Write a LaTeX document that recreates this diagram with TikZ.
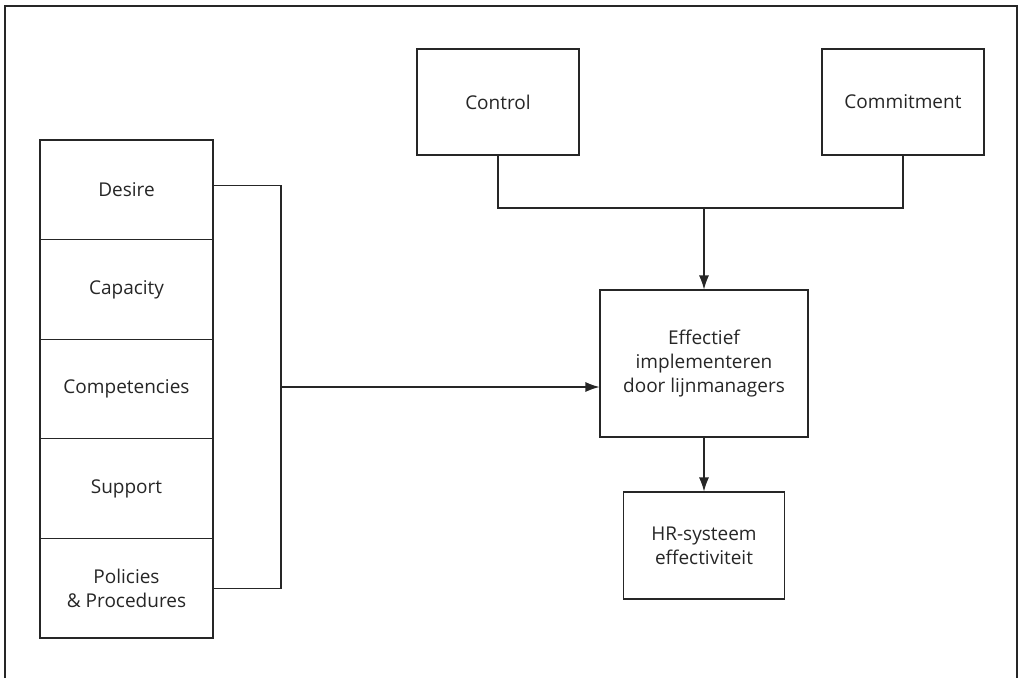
\documentclass[tikz,border=0pt]{standalone}
\usepackage{fontspec}
\setmainfont{Open Sans}
\usepackage{tikz}
\usetikzlibrary{arrows.meta}

\begin{document}
\begin{tikzpicture}[x=1pt, y=-1pt,
    line width=1.1pt, draw=black!85,
    every node/.style={text=black!85, font=\fontsize{19}{24}\selectfont},
    box/.style={draw, align=center, inner sep=0pt},
    cell/.style={box, minimum width=173pt, minimum height=99.6pt},
    flow/.style={-{Latex[length=14pt, width=10pt]}}]
    \useasboundingbox (0,0) rectangle (1021,678);

    % Frame
    \draw (5,678) |- (1017,6) -- (1017,678);

    % Left column
    \node[cell] (desire) at (126.5,189.8) {Desire};
    \node[cell] (capacity) at (126.5,289.4) {Capacity};
    \node[cell] (competencies) at (126.5,389) {Competencies};
    \node[cell] (support) at (126.5,488.6) {Support};
    \node[cell] (policies) at (126.5,588.2) {Policies\\\& Procedures};

    % Top boxes
    \node[box, minimum width=162pt, minimum height=106pt] (control) at (498,102) {Control};
    \node[box, minimum width=162pt, minimum height=106pt] (commitment) at (903,102) {Commitment};

    % Middle and bottom
    \node[box, minimum width=208pt, minimum height=147pt] (effectief) at (704,363.5) {Effectief\\implementeren\\door lijnmanagers};
    \node[box, minimum width=161pt, minimum height=107pt] (hr) at (704,545.5) {HR-systeem\\effectiviteit};

    % Connectors
    \coordinate (leftjunc) at (281,387);
    \coordinate (topjunc) at (704,208);
    \draw ([yshift=4pt]desire.east) -| (leftjunc) |- (policies.east);
    \draw[flow] (leftjunc) -- (leftjunc -| effectief.west);
    \draw (control.south) |- (topjunc) -| (commitment.south);
    \draw[flow] (topjunc) -- (effectief.north);
    \draw[flow] (effectief.south) -- (hr.north);
\end{tikzpicture}
\end{document}
